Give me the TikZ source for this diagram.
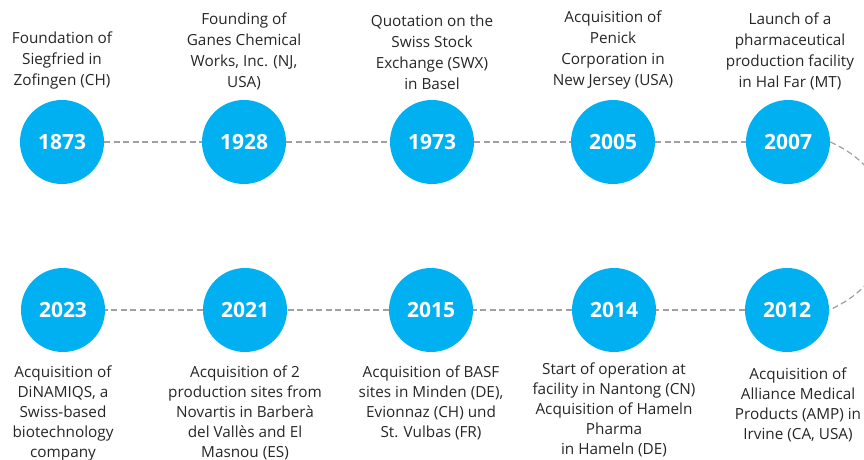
\documentclass[tikz,border=0pt]{standalone}
\usepackage{fontspec}
\setmainfont{Open Sans}
\usepackage{tikz}
\usetikzlibrary{positioning, calc}
\definecolor{yearblue}{RGB}{0, 176, 240}
\definecolor{dashgray}{RGB}{160, 160, 160}

\begin{document}
\begin{tikzpicture}[
    x=1pt, y=-1pt,
    year/.style={circle, fill=yearblue, minimum size=84pt, inner sep=0pt, text=white, font=\fontsize{21}{24}\selectfont\bfseries},
    event/.style={align=center, inner sep=0pt, font=\fontsize{15.3}{21}\selectfont, text=black!85},
    eventlow/.style={event, font=\fontsize{15.3}{20}\selectfont},
    link/.style={draw=dashgray, line width=1.2pt, dash pattern=on 6pt off 3.5pt}
]
    \useasboundingbox (0,0) rectangle (864,460);

    % top row
    \node[year] (y1873) at (62, 142) {1873};
    \node[year] (y1928) at (244, 142) {1928};
    \node[year] (y1973) at (432, 142) {1973};
    \node[year] (y2005) at (613, 142) {2005};
    \node[year] (y2007) at (788, 142) {2007};

    % bottom row
    \node[year] (y2023) at (63, 310) {2023};
    \node[year] (y2021) at (245, 310) {2021};
    \node[year] (y2015) at (431, 310) {2015};
    \node[year] (y2014) at (614, 310) {2014};
    \node[year] (y2012) at (787, 310) {2012};

    % connectors
    \draw[link] (y1873) -- (y1928);
    \draw[link] (y1928) -- (y1973);
    \draw[link] (y1973) -- (y2005);
    \draw[link] (y2005) -- (y2007);
    \draw[link] (y2007.east) .. controls +(80,35) and +(80,-35) .. (y2012.east);
    \draw[link] (y2012) -- (y2014);
    \draw[link] (y2014) -- (y2015);
    \draw[link] (y2015) -- (y2021);
    \draw[link] (y2021) -- (y2023);

    % events above
    \node[event, above=10pt of y1873] {Foundation of\\Siegfried in\\Zofingen (CH)};
    \node[event, above=10pt of y1928] {Founding of\\Ganes Chemical\\Works, Inc. (NJ,\\USA)};
    \node[event, above=10pt of y1973] {Quotation on the\\Swiss Stock\\Exchange (SWX)\\in Basel};
    \node[event, above=10pt of y2005] {Acquisition of\\Penick\\Corporation in\\New Jersey (USA)};
    \node[event, above=10pt of y2007, xshift=2pt] {Launch of a\\pharmaceutical\\production facility\\in Hal Far (MT)};

    % events below
    \node[eventlow, below=13pt of y2023] {Acquisition of\\DiNAMIQS, a\\Swiss-based\\biotechnology\\company};
    \node[eventlow, below=13pt of y2021] {Acquisition of 2\\production sites from\\Novartis in Barberà\\del Vallès and El\\Masnou (ES)};
    \node[eventlow, below=13pt of y2015] {Acquisition of BASF\\sites in Minden (DE),\\Evionnaz (CH) und\\St. Vulbas (FR)};
    \node[eventlow, below=10pt of y2014] {Start of operation at\\facility in Nantong (CN)\\Acquisition of Hameln\\Pharma\\in Hameln (DE)};
    \node[eventlow, below=15pt of y2012, xshift=11pt] {Acquisition of\\Alliance Medical\\Products (AMP) in\\Irvine (CA, USA)};
\end{tikzpicture}
\end{document}
